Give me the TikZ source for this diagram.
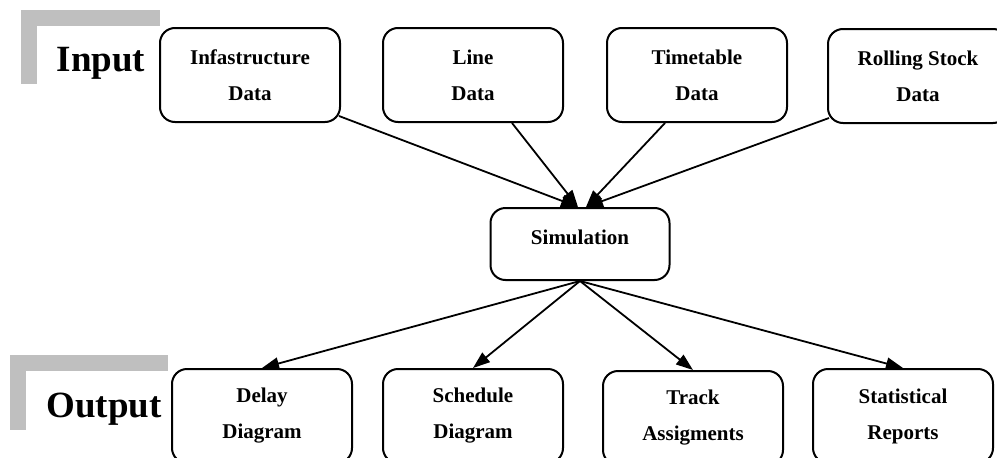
\documentclass[tikz,border=0pt]{standalone}
\usepackage{fontspec}
\setmainfont{Liberation Serif}
\usetikzlibrary{arrows.meta,calc}

\tikzset{
  box/.style={draw, line width=2pt, rounded corners=15pt,
    minimum width=180pt, minimum height=94pt, inner sep=0pt, align=center,
    font=\fontsize{21}{36}\selectfont\bfseries},
  arr/.style={line width=1.8pt, -{Triangle[length=17pt,width=12pt]}},
  corner/.style={fill=black!25, draw=none},
  heading/.style={anchor=base, font=\fontsize{37}{40}\selectfont\bfseries}
}

\begin{document}
\begin{tikzpicture}[x=1pt, y=-1pt]
\useasboundingbox (0,0) rectangle (997,458);

% grey corner brackets
\fill[corner] (21,10) rectangle (160,26);
\fill[corner] (21,10) rectangle (37,84);
\fill[corner] (10,355) rectangle (168,371);
\fill[corner] (10,355) rectangle (26,430);

\node[heading] (inlab) at (101,71) {Input};
\node[heading] (outlab) at (104,417) {Output};

% input data
\node[box] (infra) at (250,75) {Infastructure\\Data};
\node[box] (line) at (473,75) {Line\\Data};
\node[box] (time) at (697,75) {Timetable\\Data};
\node[box] (roll) at (918,76) {Rolling Stock\\Data};

% simulation
\node[box, minimum width=179pt, minimum height=72pt, text height=14pt, text depth=14pt] (sim) at (580,244) {Simulation};

% outputs
\node[box] (delay) at (262,416) {Delay\\Diagram};
\node[box] (sched) at (473,416) {Schedule\\Diagram};
\node[box] (track) at (693,418) {Track\\Assigments};
\node[box] (stat) at (903,416) {Statistical\\Reports};

% connectors
\draw[arr] ($(infra.south east)+(-2,-7)$) -- ($(sim.north)+(-2,0)$);
\draw[arr] ($(line.south)+(39,0)$) -- ($(sim.north)+(-2,0)$);
\draw[arr] ($(time.south)+(-32,0)$) -- ($(sim.north)+(6,0)$);
\draw[arr] ($(roll.south west)+(2,-6)$) -- ($(sim.north)+(6,0)$);

\draw[arr] (sim.south) -- (delay.north);
\draw[arr] (sim.south) -- (sched.north);
\draw[arr] (sim.south) -- (track.north);
\draw[arr] (sim.south) -- (stat.north);
\end{tikzpicture}
\end{document}
